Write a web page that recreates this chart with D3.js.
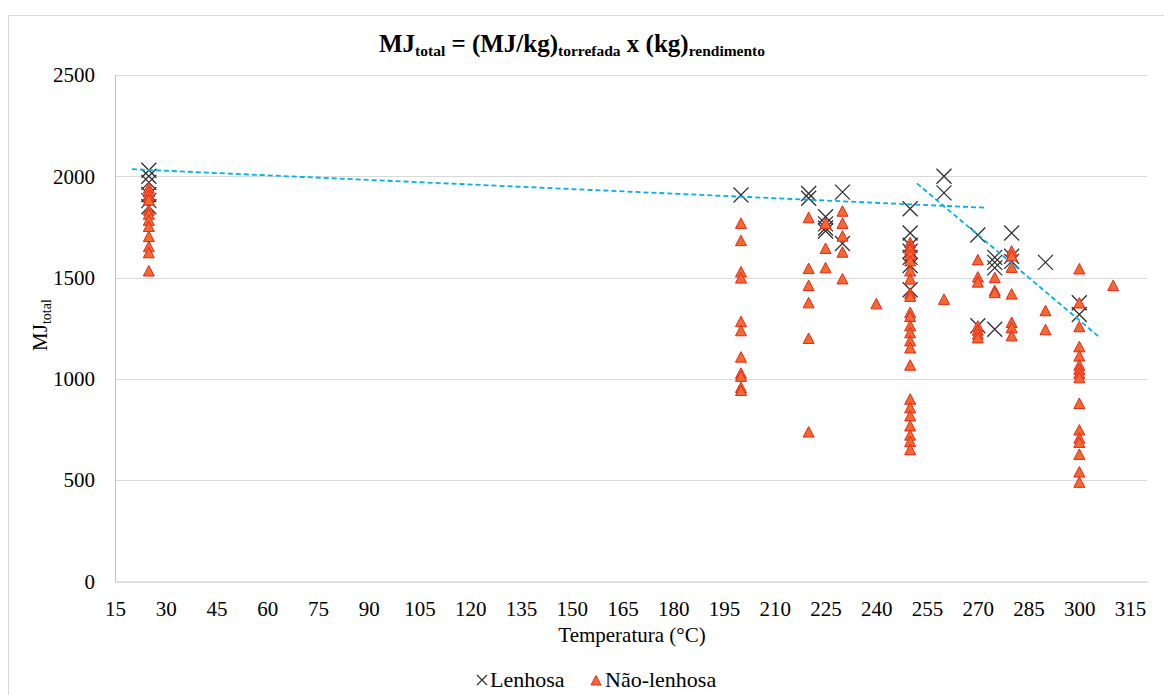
<!DOCTYPE html>
<html>
<head>
<meta charset='utf-8'>
<style>
  body { margin: 0; background: #fff; }
</style>
<script src='https://cdn.jsdelivr.net/npm/d3@7/dist/d3.min.js'></script>
</head>
<body>
<script>
// valores: [temperatura, [MJ_total ...]]
const lenhosa = [
  [25, [2030, 2000, 1970, 1910, 1880, 1850]],
  [200, [1908]],
  [220, [1915, 1892]],
  [225, [1800, 1765, 1745, 1730]],
  [230, [1922, 1668]],
  [250, [1840, 1720, 1660, 1630, 1600, 1560, 1440]],
  [260, [2000, 1918]],
  [270, [1710, 1262]],
  [275, [1600, 1575, 1548, 1245]],
  [280, [1720, 1605, 1580]],
  [290, [1575]],
  [300, [1376, 1318]]
]
const naoLenhosa = [
  [25, [1940, 1920, 1900, 1880, 1830, 1810, 1780, 1750, 1700, 1650, 1620, 1530]],
  [200, [1765, 1680, 1525, 1495, 1280, 1235, 1105, 1025, 1010, 955, 940]],
  [220, [1793, 1542, 1458, 1373, 1197, 735]],
  [225, [1765, 1641, 1546]],
  [230, [1825, 1765, 1702, 1623, 1491]],
  [240, [1368]],
  [250, [1670, 1650, 1635, 1610, 1580, 1530, 1490, 1420, 1405, 1325, 1305, 1260, 1225, 1185, 1150, 1065, 897, 855, 815, 765, 720, 688, 648]],
  [260, [1390]],
  [270, [1585, 1500, 1475, 1258, 1238, 1218, 1200]],
  [275, [1497, 1433, 1423]],
  [280, [1628, 1605, 1548, 1416, 1276, 1250, 1210]],
  [290, [1334, 1240]],
  [300, [1540, 1372, 1255, 1156, 1110, 1065, 1045, 1025, 1003, 876, 745, 705, 684, 625, 538, 487]],
  [310, [1458]]
]
// linhas de tendência (extremos)
const trend1 = [[20, 2035], [272, 1845]]
const trend2 = [[252, 1965], [306, 1205]]

const xTicks = [15, 30, 45, 60, 75, 90, 105, 120, 135, 150, 165, 180, 195, 210, 225, 240, 255, 270, 285, 300, 315]
const yTicks = [0, 500, 1000, 1500, 2000, 2500]

const FONT = "'Liberation Serif', 'Times New Roman', monospace"
const width = 1164, height = 695
const svg = d3.select('body').append('svg')
  .attr('width', width).attr('height', height)

svg.append('rect')
  .attr('x', 8.5).attr('y', 15.5).attr('width', 1200).attr('height', 700)
  .attr('fill', '#fff').attr('stroke', '#d9d9d9')

const x = d3.scaleLinear([15, 320], [115, 1147])
const y = d3.scaleLinear([0, 2500], [581.5, 75])

// grade
svg.append('g').selectAll('line')
  .data(yTicks.filter(d => d > 0))
  .join('line')
  .attr('x1', x(15)).attr('x2', x(320))
  .attr('y1', d => Math.round(y(d)) + 0.5).attr('y2', d => Math.round(y(d)) + 0.5)
  .attr('stroke', '#d9d9d9').attr('stroke-width', 1)

const xAxis = svg.append('g')
  .attr('transform', `translate(0,${y(0)})`)
  .call(d3.axisBottom(x).tickValues(xTicks).tickFormat(d3.format('d')).tickSize(0).tickPadding(20))
xAxis.attr('font-size', 21).attr('font-family', FONT)
xAxis.select('.domain').attr('stroke', '#bfbfbf')

const yAxis = svg.append('g')
  .attr('transform', `translate(${x(15)},0)`)
  .call(d3.axisLeft(y).tickValues(yTicks).tickFormat(d3.format('d')).tickSize(0).tickPadding(20))
yAxis.attr('font-size', 21).attr('font-family', FONT)
yAxis.select('.domain').attr('stroke', '#bfbfbf')

// marcadores
const crossPath = r => `M${-r},${-r}L${r},${r}M${-r},${r}L${r},${-r}`
const triPath = 'M0,-6L5.5,4.5L-5.5,4.5Z'

const flat = arr => arr.flatMap(([t, vs]) => vs.map(v => ({ t, v })))

svg.append('g').selectAll('path')
  .data(flat(lenhosa))
  .join('path')
  .attr('transform', d => `translate(${x(d.t)},${y(d.v)})`)
  .attr('d', crossPath(7.5))
  .attr('fill', 'none').attr('stroke', '#303030').attr('stroke-width', 1.3)

svg.append('g').selectAll('path')
  .data(flat(naoLenhosa))
  .join('path')
  .attr('transform', d => `translate(${x(d.t)},${y(d.v)})`)
  .attr('d', triPath)
  .attr('fill', '#f26a2e').attr('stroke', '#e8261c').attr('stroke-width', 1)

const line = d3.line().x(d => x(d[0])).y(d => y(d[1]))
svg.append('g').selectAll('path')
  .data([trend1, trend2])
  .join('path')
  .attr('d', line)
  .attr('fill', 'none').attr('stroke', '#00b0f0')
  .attr('stroke-width', 1.8).attr('stroke-dasharray', '5,3')

// título
const title = svg.append('text')
  .attr('x', 572).attr('y', 52)
  .attr('text-anchor', 'middle')
  .attr('font-weight', 'bold').attr('font-size', 25)
title.append('tspan').text('MJ')
title.append('tspan').attr('font-size', 15.5).attr('dy', 4).text('total')
title.append('tspan').attr('dy', -4).text(' = (MJ/kg)')
title.append('tspan').attr('font-size', 15.5).attr('dy', 4).text('torrefada')
title.append('tspan').attr('dy', -4).text(' x (kg)')
title.append('tspan').attr('font-size', 15.5).attr('dy', 4).text('rendimento')

// rótulos dos eixos
const yLabel = svg.append('text')
  .attr('transform', 'translate(47,325) rotate(-90)')
  .attr('text-anchor', 'middle').attr('font-size', 21)
yLabel.append('tspan').text('MJ')
yLabel.append('tspan').attr('font-size', 14).attr('dy', 4).text('total')

svg.append('text')
  .attr('x', 632).attr('y', 642)
  .attr('text-anchor', 'middle').attr('font-size', 21)
  .text('Temperatura (°C)')

// legenda
const legend = svg.append('g').attr('transform', 'translate(0,680)')
legend.append('path')
  .attr('transform', 'translate(482,0)')
  .attr('d', crossPath(5))
  .attr('fill', 'none').attr('stroke', '#303030').attr('stroke-width', 1.2)
legend.append('text').attr('x', 490).attr('y', 7).attr('font-size', 22).text('Lenhosa')
legend.append('path')
  .attr('transform', 'translate(596,1)')
  .attr('d', 'M0,-5.5L5,4L-5,4Z')
  .attr('fill', '#f26a2e').attr('stroke', '#e8261c').attr('stroke-width', 1)
legend.append('text').attr('x', 605).attr('y', 7).attr('font-size', 22).text('Não-lenhosa')

// fonte serifada em todos os textos
svg.selectAll('text').attr('font-family', FONT).attr('fill', '#000')
</script>
</body>
</html>
